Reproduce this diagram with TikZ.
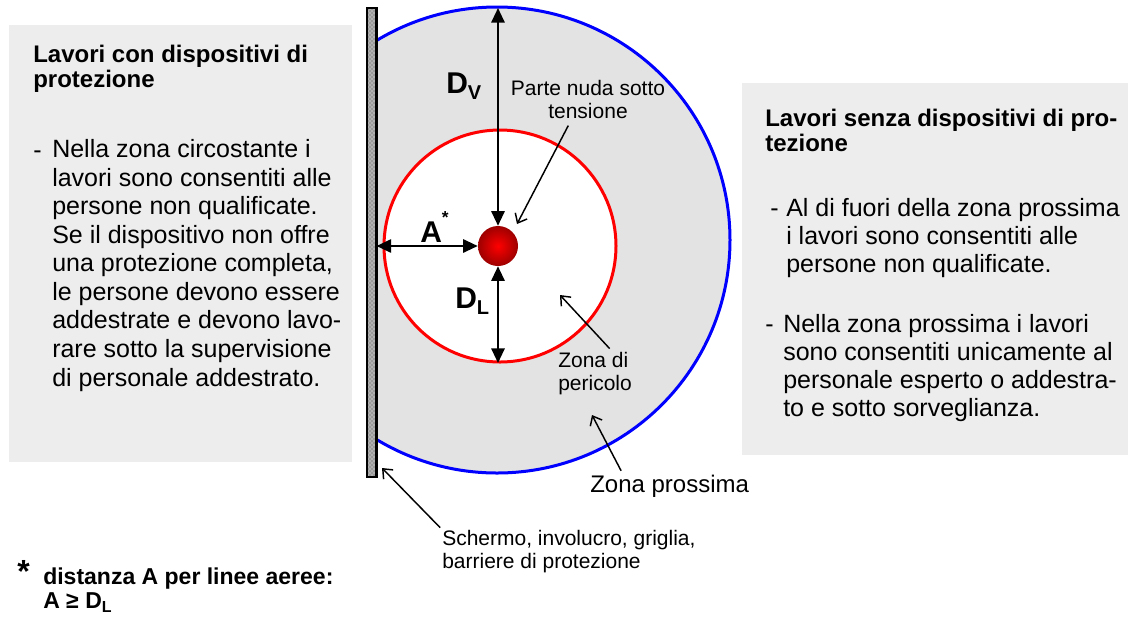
\documentclass[tikz,border=0pt]{standalone}
\usepackage{fontspec}
\setmainfont{Liberation Sans}
\usetikzlibrary{arrows.meta,patterns,shadings}
\definecolor{boxgray}{RGB}{237,237,237}
\definecolor{zonegray}{RGB}{227,227,227}
\definecolor{pureblue}{RGB}{0,0,255}
\definecolor{purered}{RGB}{255,0,0}
\newcommand\myfs[2]{\fontsize{#1}{#2}\selectfont}
\begin{document}
\begin{tikzpicture}[x=0.75pt,y=-0.75pt,
  infobox/.style={fill=boxgray, draw=none},
  heading/.style={anchor=base west, inner sep=0pt, align=left, font={\bfseries\myfs{18}{18.75}}},
  body/.style={anchor=base west, inner sep=0pt, align=left, font={\myfs{18.75}{21}}},
  lbl/.style={inner sep=0pt, anchor=base west, align=left, font={\myfs{15.75}{17.25}}},
  bigsym/.style={inner sep=0pt, anchor=base west, font={\bfseries\myfs{22.5}{22.5}}},
  dimarrow/.style={{Triangle[length=11pt,width=10pt]}-{Triangle[length=11pt,width=10pt]}, line width=1.5pt},
  pointer/.style={-{Straight Barb[length=6pt,width=10pt]}, line width=1.1pt}]
\useasboundingbox (0,0) rectangle (1133,619);
% side boxes
\fill[infobox] (9,25) rectangle (352,462);
\fill[infobox] (742,83) rectangle (1128,455);
% zones
\begin{scope}
  \clip (376,0) rectangle (1133,619);
  \fill[zonegray] (497,240) circle[radius=233];
  \fill[white] (500,246) circle[radius=116];
  \draw[pureblue, line width=2.25pt] (497,240) circle[radius=233];
\end{scope}
\draw[purered, line width=2.25pt] (500,246) circle[radius=116];
% screen
\node[draw=black, line width=0.8pt, preaction={fill=black!40}, pattern=crosshatch dots, pattern color=white,
  minimum width=6.75pt, minimum height=351.75pt, inner sep=0pt] (screen) at (371.5,242.5) {};
\draw[line width=1.5pt] (screen.north east) -- (screen.south east);
% live part
\node[circle, minimum size=30pt, inner sep=0pt, shading=radial, inner color=purered, outer color=red!62!black] (ball) at (498,246) {};
\coordinate (dvtop) at (498,8);
\coordinate (dlbot) at (498,363);
\draw[dimarrow] (ball.north) -- (dvtop);
\draw[dimarrow] (ball.south) -- (dlbot);
\draw[dimarrow] (screen.east |- ball) -- (ball.west);
% symbols
\node[bigsym] (dv) at (446,93) {D\raisebox{-5pt}{\myfs{15}{15}V}};
\node[bigsym] (astar) at (420,242) {A\raisebox{14pt}{\myfs{13}{13}*}};
\node[bigsym] (dl) at (455,308) {D\raisebox{-5pt}{\myfs{15}{15}L}};
% labels (multi-line nodes are placed at the baseline of their last line)
\node[lbl, align=center, anchor=base] (parte) at (588,118) {Parte nuda sotto\\tensione};
\coordinate (pnTip) at (517,224);
\draw[pointer, shorten <=6pt] ([xshift=-12pt]parte.south) -- (pnTip);
\node[lbl] (pericolo) at (558,390) {Zona di\\pericolo};
\coordinate (dzTip) at (560,295);
\draw[pointer, shorten <=3pt] ([xshift=13pt]pericolo.north) -- (dzTip);
\node[lbl, font={\myfs{18}{18}}] (prossima) at (590,492) {Zona prossima};
\coordinate (zpTip) at (592,415);
\draw[pointer, shorten <=3pt] ([xshift=-35pt]prossima.north) -- (zpTip);
\node[lbl] (schermo) at (442,568) {Schermo, involucro, griglia,\\barriere di protezione};
\coordinate (scTip) at (382,468);
\draw[pointer, shorten <=2pt] (schermo.north west) -- (scTip);
% left box text
\node[heading] (lhead) at (33,87) {Lavori con dispositivi di\\protezione};
\node[body] (ldash) at (33,158) {-};
\node[body, font={\myfs{18.75}{21.4}}] (ltext) at (52,386) {Nella zona circostante i\\lavori sono consentiti alle\\persone non qualificate.\\Se il dispositivo non offre\\una protezione completa,\\le persone devono essere\\addestrate e devono lavo-\\rare sotto la supervisione\\di personale addestrato.};
% right box text
\node[heading] (rhead) at (765,151) {Lavori senza dispositivi di pro-\\tezione};
\node[body] (rdash1) at (770,216) {-};
\node[body] (rtext1) at (786,272) {Al di fuori della zona prossima\\i lavori sono consentiti alle\\persone non qualificate.};
\node[body] (rdash2) at (765,332) {-};
\node[body] (rtext2) at (783,416) {Nella zona prossima i lavori\\sono consentiti unicamente al\\personale esperto o addestra-\\to e sotto sorveglianza.};
% footnote
\node[inner sep=0pt, anchor=base west, font={\bfseries\myfs{24}{24}}] (fstar) at (17,582) {*};
\node[inner sep=0pt, anchor=base west, align=left, font={\bfseries\myfs{17.25}{18}}] (fnote) at (43,608) {distanza A per linee aeree:\\A ≥ D\raisebox{-3pt}{\myfs{12}{12}L}};
\end{tikzpicture}
\end{document}
